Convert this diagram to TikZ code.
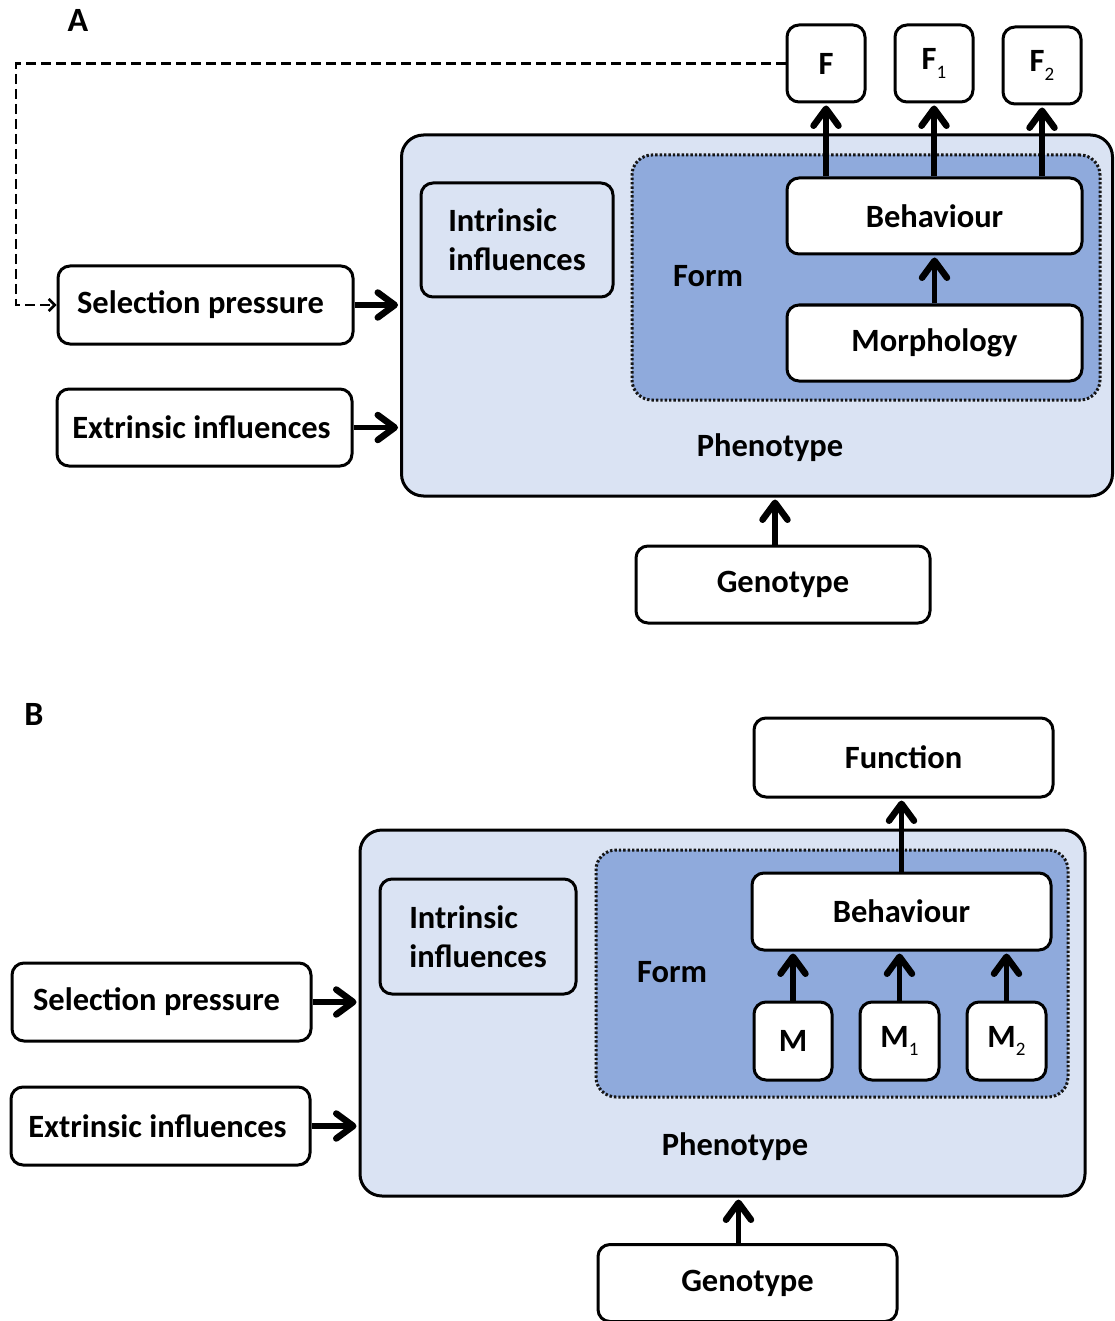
\documentclass[tikz,border=0pt]{standalone}
\usepackage{fontspec}
\setmainfont{Carlito}
\usetikzlibrary{arrows.meta}
\definecolor{phenofill}{HTML}{DAE3F3}
\definecolor{formfill}{HTML}{8FAADC}
\definecolor{formline}{HTML}{151515}
\newcommand{\lowidx}[1]{\raisebox{-0.25em}{\fontsize{19}{19}\selectfont\mdseries #1}}
\begin{document}
\begin{tikzpicture}[x=1pt,y=-1pt,
  txt/.style={font=\fontsize{32.5}{39}\selectfont\bfseries, inner sep=0pt},
  box/.style={txt, draw, line width=3pt, rounded corners=12pt, fill=white, align=center},
  phenobox/.style={draw, line width=3pt, rounded corners=22pt, fill=phenofill, inner sep=0pt},
  formbox/.style={draw=formline, line width=3pt, dash pattern=on 2.4pt off 2pt, rounded corners=20pt, fill=formfill, inner sep=0pt},
  arr/.style={line width=5.5pt, shorten >=2pt, -{Straight Barb[length=17pt, width=25pt, line width=6.5pt, round]}},
  feedback/.style={line width=2.5pt, dash pattern=on 10pt off 5pt, -{Straight Barb[length=6pt, width=12pt, line width=2.5pt]}},
  panel/.style={font=\fontsize{34}{36}\selectfont\bfseries, inner sep=0pt}]
\useasboundingbox (0,0) rectangle (1115,1321);

% ---------- Panel A ----------
\node[panel] (labA) at (78,20) {A};
\node[phenobox, minimum width=711pt, minimum height=361pt] (phenA) at (757,315.5) {};
\node[formbox, minimum width=468pt, minimum height=245pt] (formA) at (866,277.5) {};
\node[box, fill=phenofill, minimum width=192pt, minimum height=114pt, align=left] (intrA) at (517,240) {Intrinsic\\influences};
\node[txt] (formlabA) at (708,276) {Form};
\node[txt] (phenlabA) at (770,448) {Phenotype};
\node[box, minimum width=295pt, minimum height=76pt] (behA) at (934.5,216) {Behaviour};
\node[box, minimum width=295pt, minimum height=76pt] (morA) at (934.5,343) {Morphology};
\node[box, minimum width=78pt, minimum height=77pt] (fA) at (826,63.5) {F};
\node[box, minimum width=78pt, minimum height=77pt] (fA1) at (934,63.5) {F\lowidx{1}};
\node[box, minimum width=78pt, minimum height=77pt] (fA2) at (1042,65.5) {F\lowidx{2}};
\node[box, minimum width=295pt, minimum height=78pt] (selA) at (205.5,305) {Selection pressure\hspace*{10pt}};
\node[box, minimum width=295pt, minimum height=77pt] (extA) at (204.5,427.5) {Extrinsic influences\hspace*{6pt}};
\node[box, minimum width=294pt, minimum height=77pt] (genA) at (783,584.5) {Genotype};
\coordinate (turnA) at (16,200);

\draw[arr] (selA.east) -- (phenA.west |- selA.east);
\draw[arr] (extA.east) -- (phenA.west |- extA.east);
\draw[arr] ([xshift=-8pt]genA.north) -- ([xshift=-8pt]genA.north |- phenA.south);
\draw[arr] (morA.north) -- (behA.south);
\draw[arr] (fA.south |- behA.north) -- (fA.south);
\draw[arr] (fA1.south |- behA.north) -- (fA1.south);
\draw[arr] (fA2.south |- behA.north) -- (fA2.south);
\draw[feedback] (fA.west) -| (turnA) |- (selA.west);

% ---------- Panel B ----------
\node[panel] (labB) at (34,714) {B};
\node[phenobox, minimum width=725pt, minimum height=366pt] (phenB) at (722.5,1013) {};
\node[formbox, minimum width=472pt, minimum height=247pt] (formB) at (832,973.5) {};
\node[box, fill=phenofill, minimum width=196pt, minimum height=115pt, align=left] (intrB) at (478,936.5) {Intrinsic\\influences};
\node[txt] (formlabB) at (672,972) {Form};
\node[txt] (phenlabB) at (735,1147) {Phenotype};
\node[box, minimum width=299pt, minimum height=79pt] (funB) at (903.5,757.5) {Function};
\node[box, minimum width=299pt, minimum height=77pt] (behB) at (901.5,911.5) {Behaviour};
\node[box, minimum width=78pt, minimum height=78pt] (mB) at (793,1041) {M};
\node[box, minimum width=79pt, minimum height=78pt] (mB1) at (899.5,1041) {M\lowidx{1}};
\node[box, minimum width=79pt, minimum height=78pt] (mB2) at (1006.5,1041) {M\lowidx{2}};
\node[box, minimum width=299pt, minimum height=78pt] (selB) at (161.5,1002) {Selection pressure\hspace*{10pt}};
\node[box, minimum width=299pt, minimum height=78pt] (extB) at (160.5,1126) {Extrinsic influences\hspace*{6pt}};
\node[box, minimum width=299pt, minimum height=77pt] (genB) at (747.5,1283) {Genotype};

\draw[arr] (selB.east) -- (phenB.west |- selB.east);
\draw[arr] (extB.east) -- (phenB.west |- extB.east);
\draw[arr] ([xshift=-9pt]genB.north) -- ([xshift=-9pt]genB.north |- phenB.south);
\draw[arr] (behB.north) -- (behB.north |- funB.south);
\draw[arr] (mB.north) -- (mB.north |- behB.south);
\draw[arr] (mB1.north) -- (mB1.north |- behB.south);
\draw[arr] (mB2.north) -- (mB2.north |- behB.south);
\end{tikzpicture}
\end{document}
